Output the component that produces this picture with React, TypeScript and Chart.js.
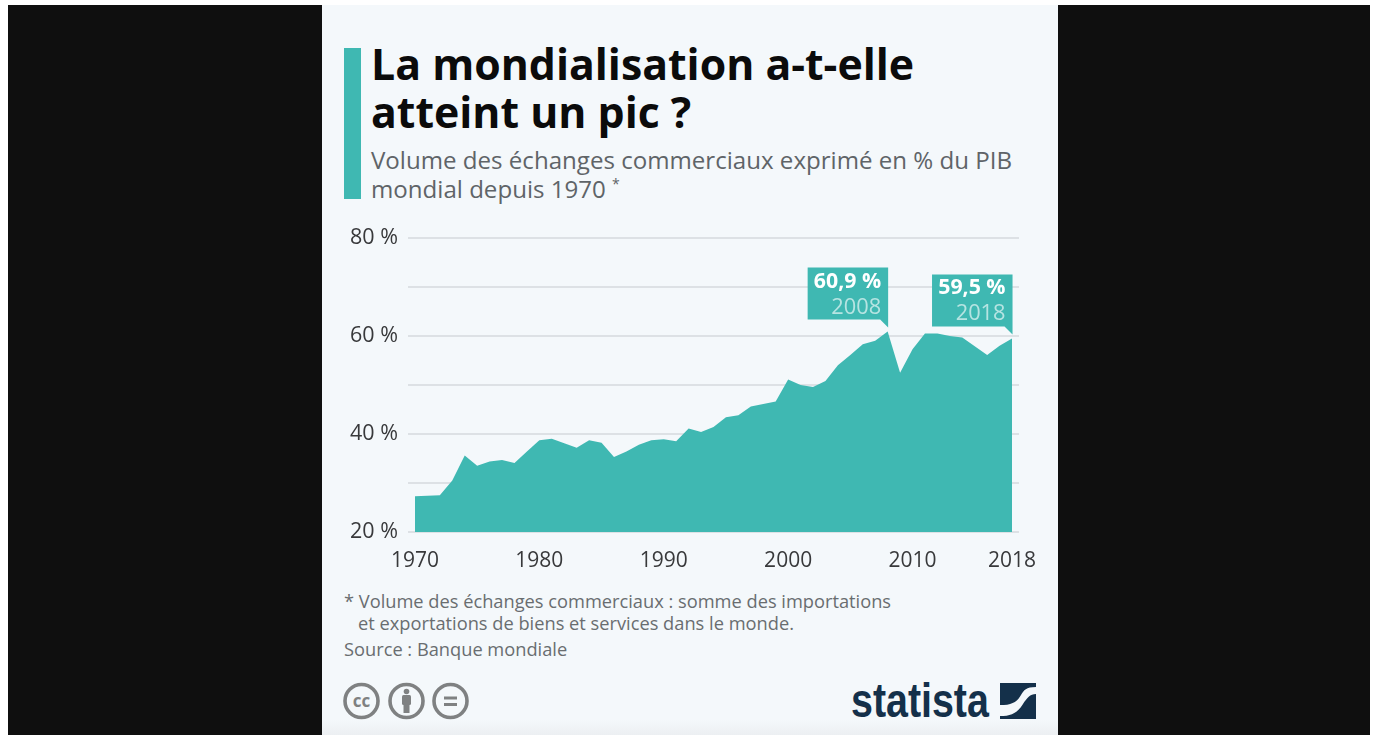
import React, { useEffect, useRef } from "react";
import { Chart, registerables } from "chart.js";

Chart.register(...registerables);

const years = [1970,1971,1972,1973,1974,1975,1976,1977,1978,1979,1980,1981,1982,1983,1984,1985,1986,1987,1988,1989,1990,1991,1992,1993,1994,1995,1996,1997,1998,1999,2000,2001,2002,2003,2004,2005,2006,2007,2008,2009,2010,2011,2012,2013,2014,2015,2016,2017,2018];
const tradeShare = [27.3,27.4,27.5,30.5,35.6,33.5,34.4,34.7,34.1,36.4,38.7,39.0,38.1,37.2,38.7,38.2,35.3,36.4,37.8,38.7,38.9,38.5,41.1,40.4,41.4,43.4,43.8,45.6,46.1,46.6,51.1,50.0,49.6,50.8,54.0,56.1,58.3,59.0,60.9,52.5,57.3,60.5,60.5,60.0,59.7,57.9,56.1,58.0,59.5];
const xTicks = [1970,1980,1990,2000,2010,2018];
const callouts = [
  { year: 2008, value: 60.9, label: "60,9 %" },
  { year: 2018, value: 59.5, label: "59,5 %" },
];
const TEAL = "#3fb8b2";
const FONT = '"Open Sans", sans-serif';

const calloutPlugin = {
  id: "callouts",
  afterDatasetsDraw(chart: any) {
    const { ctx, scales } = chart;
    ctx.save();
    for (const c of callouts) {
      const px = scales.x.getPixelForValue(c.year);
      const py = scales.y.getPixelForValue(c.value);
      const right = px + 0.5;
      const bottom = py - 12;
      const top = bottom - 52;
      const left = right - 80.5;
      ctx.fillStyle = TEAL;
      ctx.beginPath();
      ctx.moveTo(left, top);
      ctx.lineTo(right, top);
      ctx.lineTo(right, py - 4);
      ctx.lineTo(right - 8, bottom);
      ctx.lineTo(left, bottom);
      ctx.closePath();
      ctx.fill();
      ctx.textAlign = "right";
      ctx.textBaseline = "alphabetic";
      ctx.fillStyle = "#ffffff";
      ctx.font = `700 21.3px ${FONT}`;
      ctx.fillText(c.label, right - 7, top + 20);
      ctx.fillStyle = "rgba(255,255,255,0.62)";
      ctx.font = `400 21.8px ${FONT}`;
      ctx.fillText(String(c.year), right - 7, top + 46);
    }
    ctx.restore();
  },
};

const abs = (left: number, top: number, style: React.CSSProperties = {}): React.CSSProperties => ({
  position: "absolute", left, top, whiteSpace: "nowrap", fontFamily: FONT, ...style,
});

export default function App() {
  const ref = useRef<HTMLCanvasElement>(null);
  useEffect(() => {
    const chart = new Chart(ref.current!, {
      type: "line",
      data: {
        labels: years,
        datasets: [{
          data: years.map((y, i) => ({ x: y, y: tradeShare[i] })),
          fill: "origin",
          backgroundColor: TEAL,
          borderWidth: 0,
          pointRadius: 0,
          tension: 0,
        }],
      },
      plugins: [calloutPlugin],
      options: {
        animation: false,
        responsive: false,
        layout: { padding: { top: 18, right: 31, left: 0, bottom: 0 } },
        plugins: { legend: { display: false }, tooltip: { enabled: false }, title: { display: false } },
        scales: {
          x: {
            type: "linear",
            min: 1969.44,
            max: 2018.56,
            afterBuildTicks: (s: any) => { s.ticks = xTicks.map((v) => ({ value: v })); },
            afterFit: (s: any) => { s.height = 47; },
            grid: { display: false },
            border: { display: false },
            ticks: {
              autoSkip: false, maxRotation: 0, padding: 8,
              color: "#38393b",
              font: { family: FONT, size: 21 },
              callback: (v: any) => String(v),
            },
          },
          y: {
            min: 20,
            max: 80,
            afterFit: (s: any) => { s.width = 78; },
            grid: { color: "#dde1e5", lineWidth: 2, drawTicks: false },
            border: { display: false },
            ticks: {
              stepSize: 10, autoSkip: false, padding: 10,
              color: "#38393b",
              font: { family: FONT, size: 21.5 },
              callback: (v: any) => (v % 20 === 0 ? `${v} %` : ""),
            },
          },
        },
      },
    } as any);
    return () => chart.destroy();
  }, []);

  return (
    <div style={{ position: "fixed", inset: 0, background: "#fff", overflow: "hidden" }}>
      <div style={{ position: "absolute", left: 8, top: 5, width: 1362, height: 730, background: "#0f0f0f" }} />
      <div style={{ position: "absolute", left: 322, top: 5, width: 736, height: 730, background: "linear-gradient(#f4f8fb 0, #f4f8fb 715px, #eceff2 730px)", filter: "blur(0.7px)" }}>
        <div style={{ position: "absolute", left: -322, top: -5, width: 1375, height: 735 }}>
          <div style={{ position: "absolute", left: 344, top: 48, width: 17, height: 151, background: TEAL }} />
          <div style={abs(371, 40, { fontSize: 42.8, fontWeight: 700, lineHeight: "47.5px", color: "#0b0b0b" })}>
            La mondialisation a-t-elle<br />atteint un pic ?
          </div>
          <div style={abs(371, 145, { fontSize: 24.1, lineHeight: "29px", color: "#5f6468" })}>
            Volume des échanges commerciaux exprimé en % du PIB<br />mondial depuis 1970 <sup style={{ fontSize: 14, lineHeight: 0 }}>*</sup>
          </div>
          <canvas ref={ref} width={720} height={364} style={{ position: "absolute", left: 330, top: 215, width: 720, height: 364 }} />
          <div style={abs(344, 590, { fontSize: 18.25, lineHeight: "22px", color: "#696d70" })}>
            * Volume des échanges commerciaux : somme des importations<br />
            <span style={{ marginLeft: 14 }}>et exportations de biens et services dans le monde.</span>
          </div>
          <div style={abs(344, 638, { fontSize: 18.25, lineHeight: "22px", color: "#696d70" })}>Source : Banque mondiale</div>
          <svg style={{ position: "absolute", left: 342, top: 681 }} width={130} height={40} viewBox="0 0 130 40">
            <g fill="none" stroke="#7f8182" strokeWidth="3.6">
              <circle cx="19.5" cy="20" r="16.5" />
              <circle cx="64.5" cy="20" r="16.5" />
              <circle cx="108.5" cy="20" r="16.5" />
            </g>
            <text x="19.5" y="26" textAnchor="middle" fontFamily={FONT} fontWeight="700" fontSize="17" fill="#7f8182">cc</text>
            <g fill="#7f8182">
              <circle cx="64.5" cy="10.5" r="2.8" />
              <rect x="60" y="14" width="9" height="10" rx="1.5" />
              <rect x="61.5" y="22" width="6" height="10" />
              <rect x="102" y="15.5" width="13" height="3" />
              <rect x="102" y="22" width="13" height="3" />
            </g>
          </svg>
          <div style={abs(851, 675, { fontFamily: '"Liberation Sans", sans-serif', fontWeight: 700, fontSize: 48, lineHeight: "52px", color: "#14304a", transformOrigin: "left top", transform: "scaleX(0.82)" })}>
            statista
          </div>
          <svg style={{ position: "absolute", left: 1000, top: 682.5 }} width={36} height={36} viewBox="0 0 36 36">
            <path fill="#14304a" d="M0 0H36V4C26 4 24 7 21 12C17 19 12 22 0 22Z" />
            <path fill="#14304a" d="M36 11V36H0V33C12 33 18 29 23 21C27 15 30 11 36 11Z" />
          </svg>
        </div>
      </div>
    </div>
  );
}
